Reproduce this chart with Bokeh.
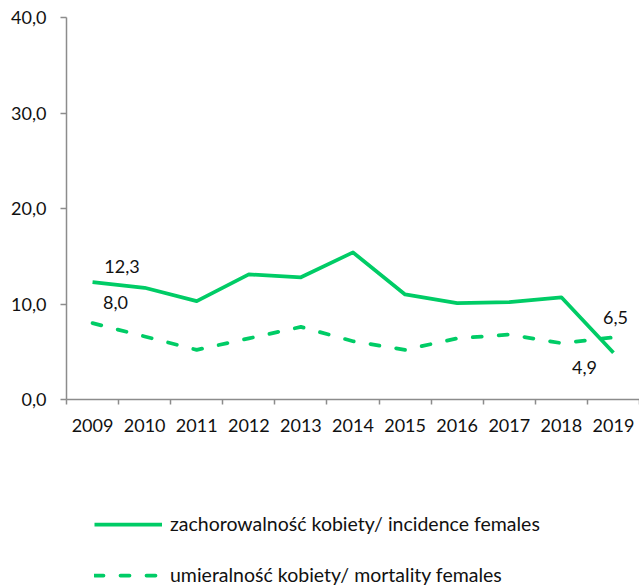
from bokeh.plotting import figure
from bokeh.layouts import column
from bokeh.models import Range1d, FixedTicker, Legend, LegendItem
from bokeh.core.properties import value
from bokeh.embed import file_html
from bokeh.resources import INLINE

years = ["2009", "2010", "2011", "2012", "2013", "2014", "2015", "2016", "2017", "2018", "2019"]
incidence = [12.3, 11.7, 10.3, 13.1, 12.8, 15.4, 11.0, 10.1, 10.2, 10.7, 4.9]
mortality = [8.0, 6.6, 5.2, 6.4, 7.6, 6.1, 5.2, 6.4, 6.8, 5.9, 6.5]
y_ticks = [0, 10, 20, 30, 40]
y_tick_labels = ["0,0", "10,0", "20,0", "30,0", "40,0"]
series_names = ["zachorowalność kobiety/ incidence females",
                "umieralność kobiety/ mortality females"]

GREEN = "#00CC66"
AXIS = "#8c8c8c"
FONT = "Lato"
TXT = "#111111"
LW = 3.75
DASH = "9 17"

n = len(years)
x = [i + 0.5 for i in range(n)]

p = figure(width=639, height=460, x_range=Range1d(0, n), y_range=Range1d(0, 40),
           output_backend="svg", toolbar_location=None,
           min_border_left=66, min_border_right=0, min_border_top=17, min_border_bottom=61)
p.outline_line_color = None
p.grid.visible = False

r1 = p.line(x, incidence, line_color=GREEN, line_width=LW, line_join="round")
r2 = p.line(x, mortality, line_color=GREEN, line_width=LW, line_dash=DASH,
            line_cap="round", line_join="round")

# data labels
lab_idx = [0, 0, n - 1, n - 1]
lab_val = [incidence[0], mortality[0], mortality[-1], incidence[-1]]
lab_x = [x[i] for i in lab_idx]
lab_txt = [f"{v:.1f}".replace(".", ",") for v in lab_val]
p.text(x=lab_x, y=lab_val, text=lab_txt, x_offset=[29.5, 23, 2, -29], y_offset=[-15.5, -21, -19.5, 14.5],
       text_align="center", text_baseline="middle", text_font=value(FONT),
       text_font_size="18px", text_color=TXT)

# axes
xa = p.xaxis[0]
xa.ticker = FixedTicker(ticks=x, minor_ticks=list(range(n + 1)))
xa.major_label_overrides = {xi: yr for xi, yr in zip(x, years)}
xa.major_tick_out = 0
xa.major_tick_in = 0
xa.minor_tick_out = 5
xa.minor_tick_in = 0
xa.minor_tick_line_color = AXIS
xa.axis_line_color = AXIS
xa.axis_line_width = 1.5
xa.minor_tick_line_width = 1.5
xa.major_label_text_font = FONT
xa.major_label_text_font_size = "18px"
xa.major_label_text_color = TXT
xa.major_label_standoff = 14

ya = p.yaxis[0]
ya.ticker = FixedTicker(ticks=y_ticks, minor_ticks=[])
ya.major_label_overrides = {t: l for t, l in zip(y_ticks, y_tick_labels)}
ya.major_tick_out = 6
ya.major_tick_in = 0
ya.minor_tick_out = 0
ya.minor_tick_in = 0
ya.major_tick_line_color = AXIS
ya.major_tick_line_width = 1.5
ya.axis_line_color = AXIS
ya.axis_line_width = 1.5
ya.major_label_text_font = FONT
ya.major_label_text_font_size = "18px"
ya.major_label_text_color = TXT
ya.major_label_standoff = 14

# legend in its own strip below the chart (series drawn out of view there,
# only their legend glyphs show)
q = figure(width=639, height=126, x_range=Range1d(0, n), y_range=Range1d(0, 1),
           output_backend="svg", toolbar_location=None,
           x_axis_location=None, y_axis_location=None,
           min_border_left=66, min_border_right=0, min_border_top=0, min_border_bottom=0)
q.outline_line_color = None
q.grid.visible = False
l1 = q.line(x, incidence, line_color=GREEN, line_width=LW, line_join="round")
l2 = q.line(x, mortality, line_color=GREEN, line_width=LW, line_dash=DASH,
            line_cap="round", line_join="round")
legend = Legend(items=[LegendItem(label=series_names[0], renderers=[l1]),
                       LegendItem(label=series_names[1], renderers=[l2])],
                location=(28, 0), orientation="vertical",
                glyph_width=68, glyph_height=20, label_height=20, label_standoff=8,
                spacing=28, padding=0, margin=0, border_line_color=None,
                background_fill_alpha=0,
                label_text_font=FONT, label_text_font_size="19.5px", label_text_color=TXT)
q.add_layout(legend, "center")

layout = column(p, q, spacing=0)
open("out.html", "w").write(file_html(layout, INLINE))
